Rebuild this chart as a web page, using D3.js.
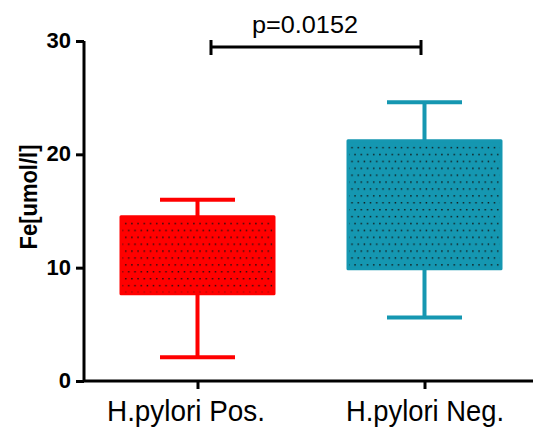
<!DOCTYPE html>
<html>
<head>
<meta charset="utf-8">
<script src="https://cdn.jsdelivr.net/npm/d3@7"></script>
<style>
  body { margin: 0; background: #fff; }
  text { font-family: Arial, "Liberation Sans", sans-serif; }
</style>
</head>
<body>
<div id="chart"></div>
<script>
// data
var groups = ["H.pylori Pos.", "H.pylori Neg."];
var whiskerLow = [2.1, 5.6];
var boxLow = [7.7, 9.9];
var medians = [11.0, 15.0];
var boxHigh = [14.5, 21.2];
var whiskerHigh = [16.0, 24.6];
var colors = ["#ff0000", "#1597b1"];
var yTicks = [0, 10, 20, 30];
var pLabel = "p=0.0152";

var svgWidth = 533;
var svgHeight = 437;

var svg = d3.select("#chart")
    .append("svg")
    .attr("width", svgWidth)
    .attr("height", svgHeight);

var defs = svg.append("defs");
colors.forEach(function(c, i) {
    var pat = defs.append("pattern")
        .attr("id", "dots" + i)
        .attr("patternUnits", "userSpaceOnUse")
        .attr("width", 6.2)
        .attr("height", 13.8);
    pat.append("rect").attr("width", 6.2).attr("height", 13.8).attr("fill", c);
    pat.append("rect").attr("x", 1).attr("y", 2).attr("width", 1.4).attr("height", 1.4).attr("fill", "#111");
    pat.append("rect").attr("x", 4.1).attr("y", 8.9).attr("width", 1.4).attr("height", 1.4).attr("fill", "#111");
});

var yScale = d3.scaleLinear().domain([0, 30]).range([381, 41]);
var xScale = d3.scalePoint().domain(groups).range([84, 538]).padding(0.5);

var boxW = 153;
var capW = 75;

// boxes
groups.forEach(function(g, i) {
    var cx = xScale(g);
    var grp = svg.append("g");
    // whisker stems
    grp.append("line")
        .attr("x1", cx).attr("x2", cx)
        .attr("y1", yScale(whiskerLow[i])).attr("y2", yScale(whiskerHigh[i]))
        .attr("stroke", colors[i]).attr("stroke-width", 4);
    [whiskerLow[i], whiskerHigh[i]].forEach(function(v) {
        grp.append("line")
            .attr("x1", cx - capW / 2).attr("x2", cx + capW / 2)
            .attr("y1", yScale(v)).attr("y2", yScale(v))
            .attr("stroke", colors[i]).attr("stroke-width", 4);
    });
    grp.append("rect")
        .attr("x", cx - boxW / 2)
        .attr("y", yScale(boxHigh[i]))
        .attr("width", boxW)
        .attr("height", yScale(boxLow[i]) - yScale(boxHigh[i]))
        .attr("fill", "url(#dots" + i + ")")
        .attr("stroke", colors[i])
        .attr("stroke-width", 3)
        .attr("stroke-linejoin", "round");
});

// y axis
var yAxis = svg.append("g")
    .attr("transform", "translate(84,0)")
    .call(d3.axisLeft(yScale).tickValues(yTicks).tickSize(8).tickPadding(5));
yAxis.select(".domain").attr("d", "M0," + yScale(30) + "V" + yScale(0)).attr("stroke-width", 3);
yAxis.selectAll(".tick line").attr("stroke-width", 3);
yAxis.selectAll(".tick text")
    .attr("font-size", 22).attr("font-weight", "bold").attr("fill", "#000")
    .attr("dy", "0.3em")
    .attr("font-family", "Arial, 'Liberation Sans', sans-serif");

// x axis
var xAxis = svg.append("g")
    .attr("transform", "translate(0,381)")
    .call(d3.axisBottom(xScale).tickSize(8).tickPadding(11));
xAxis.select(".domain").attr("d", "M84,0H533").attr("stroke-width", 3);
xAxis.selectAll(".tick line").attr("stroke-width", 3);
xAxis.selectAll(".tick text")
    .attr("font-size", 30).attr("fill", "#000")
    .attr("textLength", 158)
    .attr("lengthAdjust", "spacingAndGlyphs")
    .attr("dx", function(d, i) { return i === 0 ? -12 : 0; })
    .attr("font-family", "Arial, 'Liberation Sans', sans-serif");

// y label
svg.append("text")
    .attr("transform", "translate(37,197) rotate(-90)")
    .attr("text-anchor", "middle")
    .attr("font-size", 24)
    .attr("font-weight", "bold")
    .attr("textLength", 105)
    .attr("lengthAdjust", "spacingAndGlyphs")
    .text("Fe[umol/l]");

// significance bracket
var bx1 = 211, bx2 = 421, by = 47;
svg.append("path")
    .attr("d", "M" + bx1 + "," + (by - 7) + "V" + (by + 8) + "M" + bx1 + "," + by + "H" + bx2 + "M" + bx2 + "," + (by - 7) + "V" + (by + 8))
    .attr("fill", "none").attr("stroke", "#000").attr("stroke-width", 3);
svg.append("text")
    .attr("x", 305)
    .attr("y", 33)
    .attr("text-anchor", "middle")
    .attr("font-size", 23)
    .attr("textLength", 106)
    .attr("lengthAdjust", "spacingAndGlyphs")
    .text(pLabel);
</script>
</body>
</html>
